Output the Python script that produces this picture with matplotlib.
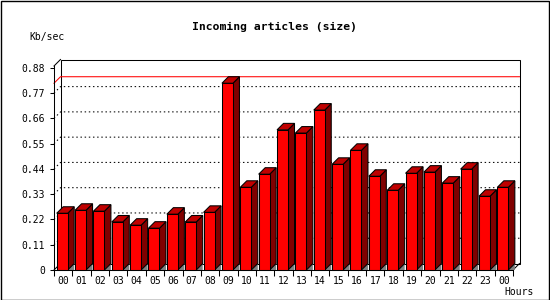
import matplotlib
matplotlib.use("Agg")
import matplotlib.pyplot as plt
from matplotlib.patches import Polygon, Rectangle

hours = ["00", "01", "02", "03", "04", "05", "06", "07", "08", "09", "10", "11",
         "12", "13", "14", "15", "16", "17", "18", "19", "20", "21", "22", "23", "00"]
values = [0.247, 0.260, 0.256, 0.209, 0.195, 0.182, 0.243, 0.209, 0.251, 0.813,
          0.360, 0.417, 0.610, 0.596, 0.696, 0.460, 0.521, 0.408, 0.347, 0.421,
          0.426, 0.378, 0.439, 0.321, 0.360]
yticks = [0, 0.11, 0.22, 0.33, 0.44, 0.55, 0.66, 0.77, 0.88]
ytick_labels = ["0", "0.11", "0.22", "0.33", "0.44", "0.55", "0.66", "0.77", "0.88"]
title = "Incoming articles (size)"
ylabel = "Kb/sec"
xlabel = "Hours"

W, H = 550, 300
FONT = "DejaVu Sans Mono"
plt.rcParams['font.family'] = FONT

fig = plt.figure(figsize=(W / 100, H / 100), dpi=100)
fig.patch.set_facecolor("white")

L, R, B, T = 54, 513, 270, 66
ax = fig.add_axes([L / W, (H - B) / H, (R - L) / W, (B - T) / H])
ax.set_facecolor("none")
n = len(values)
ytop = 0.888
ax.set_xlim(0, n)
ax.set_ylim(0, ytop)

sx = (R - L) / n
sy = (B - T) / ytop
dx = 6.5 / sx
dy = 6.5 / sy
lw = 0.75

# back wall
wall = Polygon([(dx, dy), (n + dx, dy), (n + dx, ytop + dy), (dx, ytop + dy)],
               closed=True, facecolor="white", edgecolor="black", lw=lw,
               zorder=1, clip_on=False)
ax.add_patch(wall)
# frame diagonals
for y0 in (0, ytop):
    ax.plot([0, dx], [y0, y0 + dy], color="black", lw=lw, zorder=1.5, clip_on=False)
ax.plot([n, n + dx], [0, dy], color="black", lw=lw, zorder=1.5, clip_on=False)

# grid lines
for v in yticks[1:-1]:
    ax.plot([0, dx, n + dx], [v, v + dy, v + dy], color="black", lw=lw,
            linestyle=(0, (1.4, 2.6)), zorder=2, clip_on=False)

# max line
m = max(values)
ax.plot([0, dx, n + dx], [m, m + dy, m + dy], color="red", lw=lw, zorder=2.5,
        clip_on=False)

# bars
off = 0.147
bw = 11 / sx
xs = [i + off for i in range(n)]
ax.bar(xs, values, width=bw, align="edge", color="#ff0000", edgecolor="black",
       linewidth=lw, zorder=4, clip_on=False)
for x0, v in zip(xs, values):
    xr = x0 + bw
    ax.add_patch(Polygon([(xr, 0), (xr + dx, dy), (xr + dx, 0)], closed=True,
                         facecolor="#808080", edgecolor="none", zorder=3, clip_on=False))
    ax.add_patch(Polygon([(xr, 0), (xr + dx, dy), (xr + dx, v + dy), (xr, v)], closed=True,
                         facecolor="#800000", edgecolor="black", lw=lw, zorder=3.5,
                         clip_on=False))
    ax.add_patch(Polygon([(x0, v), (xr, v), (xr + dx, v + dy), (x0 + dx, v + dy)],
                         closed=True, facecolor="#c00000", edgecolor="black", lw=lw,
                         zorder=3.5, clip_on=False))

# spines
for s in ("top", "right"):
    ax.spines[s].set_visible(False)
for s in ("left", "bottom"):
    ax.spines[s].set_linewidth(lw)
    ax.spines[s].set_zorder(5)

ax.set_yticks(yticks)
ax.set_yticklabels(ytick_labels)
ax.tick_params(axis="y", length=3, width=lw, pad=3.5, labelsize=7)
ax.set_xticks(range(n + 1))
ax.set_xticklabels([""] * (n + 1))
ax.tick_params(axis="x", which="major", length=4, width=lw)
ax.set_xticks([i + 0.5 for i in range(n)], minor=True)
ax.set_xticklabels(hours, minor=True)
ax.tick_params(axis="x", which="minor", length=0, pad=4.5, labelsize=7)

fig.text(274 / W, 1 - 27 / H, title, ha="center", va="center", fontsize=8.2,
         fontweight="bold")
fig.text(29 / W, 1 - 37 / H, ylabel, ha="left", va="center", fontsize=7)
fig.text(504 / W, 1 - 292 / H, xlabel, ha="left", va="center", fontsize=7)

fig.add_artist(Rectangle((0.5 / W, 0.5 / H), 1 - 1.5 / W, 1 - 1.5 / H,
                         transform=fig.transFigure, fill=False, edgecolor="black",
                         lw=1.0))

fig.savefig("out.png", dpi=100)
